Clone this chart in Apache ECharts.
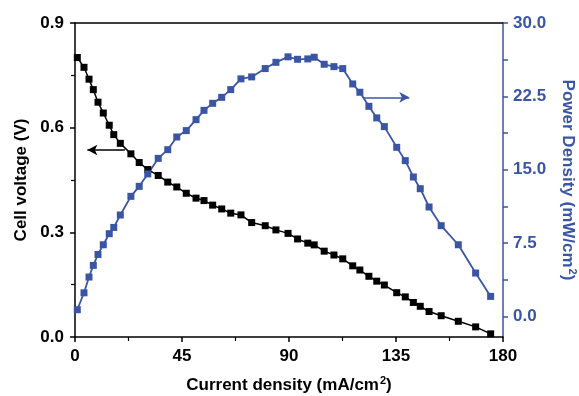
<!DOCTYPE html>
<html>
<head>
<meta charset="utf-8">
<script src="https://cdn.jsdelivr.net/npm/echarts@6/dist/echarts.min.js"></script>
<style>html,body{margin:0;padding:0;background:#fff}#c{width:579px;height:396px}</style>
</head>
<body>
<div id="c"></div>
<script>
// Data
const currentDensity = [0.97,3.78,5.89,7.7,9.67,11.9,14.4,16.3,19.06,23.5,27.0,30.6,35.0,39.0,42.8,46.8,50.9,54.25,57.9,61.7,65.5,69.8,74.3,80.0,84.5,89.6,93.6,97.9,100.6,104.8,108.9,112.6,116.8,119.8,123.6,126.9,130.1,135.3,138.9,142.3,145.2,148.9,154.0,161.2,168.5,174.8];
const cellVoltage = [0.801,0.773,0.739,0.709,0.673,0.642,0.607,0.580,0.555,0.525,0.500,0.480,0.463,0.444,0.430,0.412,0.398,0.391,0.378,0.367,0.355,0.350,0.328,0.319,0.307,0.297,0.281,0.269,0.264,0.246,0.235,0.224,0.204,0.192,0.174,0.160,0.149,0.127,0.115,0.099,0.088,0.073,0.061,0.045,0.029,0.009];
const powerDensity = [0.69,2.42,4.03,5.22,6.34,7.33,8.46,9.10,10.37,12.28,13.30,14.57,16.16,17.05,18.35,19.00,20.12,21.07,21.79,22.40,23.19,24.29,24.49,25.34,25.98,26.54,26.29,26.33,26.50,25.78,25.54,25.34,23.77,22.92,21.48,20.30,19.41,17.29,15.93,14.26,13.06,11.19,9.28,7.33,4.44,2.05];
const xTicks = [0,45,90,135,180];
const leftTicks = [0.0,0.3,0.6,0.9];
const rightTicks = [0.0,7.5,15.0,22.5,30.0];
const rightAllTicks = [0.0,3.75,7.5,11.25,15.0,18.75,22.5,26.25,30.0];

const BLACK = '#000000';
const BLUE = '#3b55a5';
const FONT = 'Liberation Sans';

const voltagePts = currentDensity.map((x,i)=>[x,cellVoltage[i]]);
const powerPts = currentDensity.map((x,i)=>[x,powerDensity[i]]);

const chart = echarts.init(document.getElementById('c'), null, {renderer:'canvas'});
const supStyle = (c)=>({fontSize:11, fontWeight:'bold', fontFamily:FONT, color:c, verticalAlign:'top', padding:[0,0,9,1]});
chart.setOption({
  animation:false,
  backgroundColor:'#fff',
  grid:{left:75, right:76, top:23, bottom:59, containLabel:false, outerBoundsMode:'none'},
  xAxis:[{
    type:'value', min:xTicks[0], max:xTicks[xTicks.length-1], interval:45, position:'bottom',
    name:'Current density (mA/cm{sup|2})', nameLocation:'middle', nameGap:38,
    nameTextStyle:{fontSize:17, fontWeight:'bold', fontFamily:FONT, color:BLACK, rich:{sup:supStyle(BLACK)}},
    axisLine:{onZero:false, lineStyle:{color:BLACK, width:1.5}},
    axisTick:{inside:false, length:5, lineStyle:{color:BLACK, width:1.5}},
    minorTick:{show:true, splitNumber:2, length:4, lineStyle:{color:BLACK, width:1.2}},
    axisLabel:{fontSize:17, fontWeight:'bold', fontFamily:FONT, color:BLACK, margin:11},
    splitLine:{show:false}
  },{
    type:'value', min:0, max:180, position:'top',
    axisLine:{show:true, onZero:false, lineStyle:{color:BLACK, width:1.5}},
    axisTick:{show:false}, axisLabel:{show:false}, splitLine:{show:false}
  }],
  yAxis:[{
    type:'value', min:0, max:0.9, interval:0.3, position:'left',
    name:'Cell voltage (V)', nameLocation:'middle', nameGap:45,
    nameTextStyle:{fontSize:17, fontWeight:'bold', fontFamily:FONT, color:BLACK},
    axisLine:{show:true, onZero:false, lineStyle:{color:BLACK, width:1.5}},
    axisTick:{length:5, lineStyle:{color:BLACK, width:1.5}},
    minorTick:{show:true, splitNumber:2, length:4, lineStyle:{color:BLACK, width:1.2}},
    axisLabel:{fontSize:17, fontWeight:'bold', fontFamily:FONT, color:BLACK, margin:11, formatter:(v)=>v.toFixed(1)},
    splitLine:{show:false}
  },{
    type:'value', min:-2.1, max:30, position:'right',
    name:'Power Density (mW/cm{sup|2})', nameLocation:'middle', nameGap:55, nameRotate:-90,
    nameTextStyle:{fontSize:17, fontWeight:'bold', fontFamily:FONT, color:BLUE, rich:{sup:supStyle(BLUE)}},
    axisLine:{show:true, onZero:false, lineStyle:{color:BLUE, width:1.5}},
    axisTick:{show:true, length:5, customValues:rightAllTicks, lineStyle:{color:BLUE, width:1.5}},
    axisLabel:{show:true, customValues:rightTicks, fontSize:17, fontWeight:'bold', fontFamily:FONT, color:BLUE, margin:10, formatter:(v)=>Number(v).toFixed(1)},
    splitLine:{show:false}
  }],
  series:[{
    type:'line', xAxisIndex:0, yAxisIndex:0, data:voltagePts,
    symbol:'rect', symbolSize:7, showSymbol:true,
    itemStyle:{color:BLACK}, lineStyle:{color:BLACK, width:1.5},
    markLine:{silent:true, symbol:['none','arrow'], symbolSize:[8,10],
      label:{show:false}, lineStyle:{color:BLACK, width:1.5, type:'solid'},
      data:[[{coord:[21.0,0.536]},{coord:[5.2,0.536]}]]}
  },{
    type:'line', xAxisIndex:0, yAxisIndex:1, data:powerPts,
    symbol:'rect', symbolSize:7, showSymbol:true,
    itemStyle:{color:BLUE}, lineStyle:{color:BLUE, width:1.8},
    markLine:{silent:true, symbol:['none','arrow'], symbolSize:[8,10],
      label:{show:false}, lineStyle:{color:BLUE, width:1.5, type:'solid'},
      data:[[{coord:[121.2,22.4]},{coord:[140.6,22.4]}]]}
  }]
});
</script>
</body>
</html>
